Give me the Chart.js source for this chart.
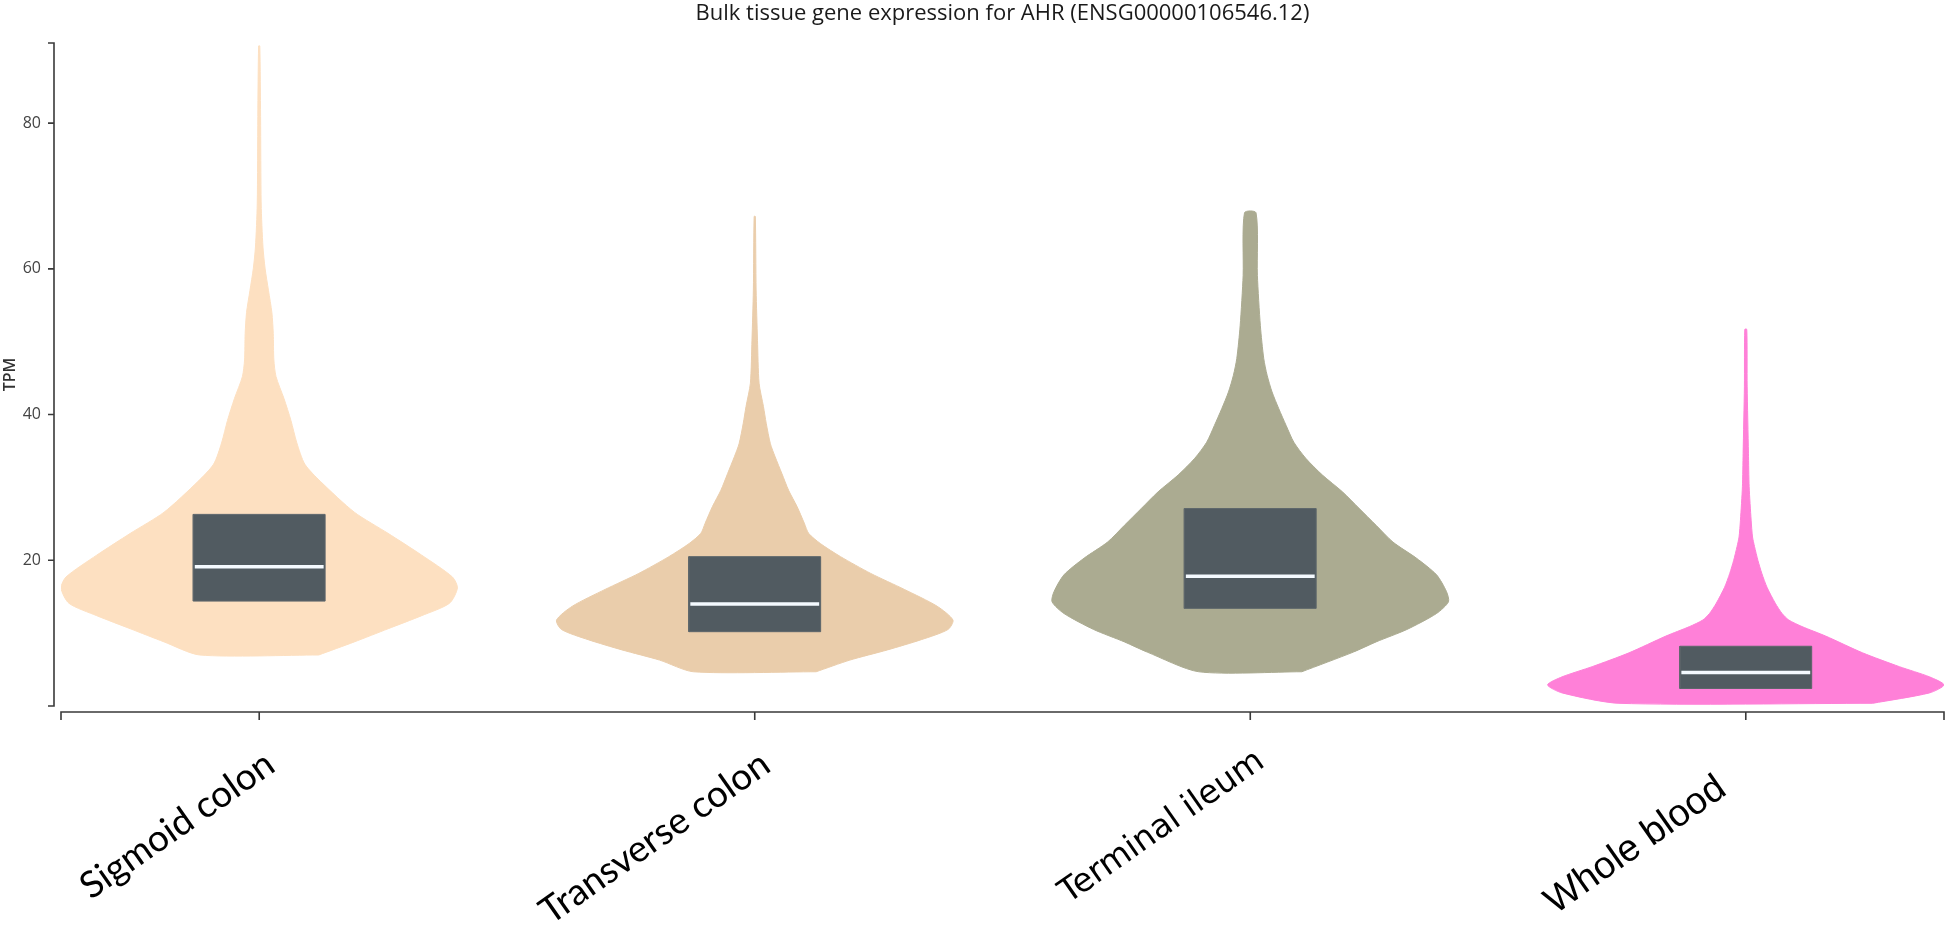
<!DOCTYPE html>
<html>
<head>
<meta charset="utf-8">
<script src="https://cdn.jsdelivr.net/npm/chart.js@4.4.0/dist/chart.umd.min.js"></script>
<style>
html,body{margin:0;padding:0;background:#fff;}
#wrap{width:1949px;height:931px;position:relative;}
</style>
</head>
<body>
<div id="wrap"><canvas id="c"></canvas></div>
<script>
// ---------- data ----------
const chartTitle = 'Bulk tissue gene expression for AHR (ENSG00000106546.12)';
const yAxisTitle = 'TPM';
const categories = ['Sigmoid colon', 'Transverse colon', 'Terminal ileum', 'Whole blood'];
const yTicks = [20, 40, 60, 80];

// violin outlines: TPM levels (ascending) and relative density width (0..1)
const sigmoidTPM     = [7.0, 8.8, 10.6, 12.4, 14.1, 16.2, 17.7, 20.7, 23.7, 26.6, 30.8, 33.2, 36.1, 39.2, 42.2, 45.2, 47.5, 51.1, 54.0, 57.0, 60.0, 63.0, 68.9, 80.9, 90.6];
const sigmoidDensity = [0.30, 0.48, 0.65, 0.82, 0.96, 1.00, 0.975, 0.82, 0.65, 0.48, 0.31, 0.23, 0.19, 0.16, 0.125, 0.085, 0.074, 0.071, 0.064, 0.047, 0.030, 0.019, 0.010, 0.007, 0.003];

const transverseTPM     = [4.7, 6.3, 7.7, 9.1, 10.5, 11.8, 13.7, 16.0, 18.2, 20.5, 22.3, 23.7, 25.1, 27.4, 29.6, 31.9, 34.2, 36.0, 38.8, 41.1, 44.3, 50.2, 57.1, 67.2];
const transverseDensity = [0.31, 0.48, 0.67, 0.84, 0.975, 1.00, 0.92, 0.755, 0.585, 0.433, 0.331, 0.272, 0.25, 0.213, 0.171, 0.137, 0.103, 0.079, 0.058, 0.044, 0.022, 0.014, 0.007, 0.003];

const ileumTPM     = [4.7, 7.4, 8.8, 10.5, 12.7, 14.3, 15.7, 18.0, 20.3, 22.5, 24.8, 27.1, 29.4, 31.7, 34.0, 36.2, 38.5, 40.8, 43.1, 45.4, 47.7, 52.2, 59.1, 67.7];
const ileumDensity = [0.26, 0.52, 0.635, 0.79, 0.94, 1.00, 0.99, 0.94, 0.838, 0.72, 0.635, 0.55, 0.465, 0.364, 0.28, 0.22, 0.181, 0.144, 0.11, 0.085, 0.068, 0.051, 0.036, 0.029];

const bloodTPM     = [0.37, 1.8, 2.9, 4.0, 5.4, 7.3, 9.6, 10.9, 11.8, 12.7, 14.1, 16.3, 18.2, 20.0, 21.9, 23.2, 25.5, 30.1, 34.7, 43.8, 51.7];
const bloodDensity = [0.64, 0.927, 1.00, 0.927, 0.775, 0.589, 0.403, 0.284, 0.217, 0.183, 0.149, 0.107, 0.081, 0.061, 0.044, 0.034, 0.027, 0.017, 0.0135, 0.007, 0.005];

// box plot summaries
const q1Values     = [14.4, 10.2, 13.4, 2.4];
const medianValues = [19.1, 14.0, 17.8, 4.6];
const q3Values     = [26.3, 20.5, 27.1, 8.2];

// ---------- styles ----------
const violinColors = ['#FDE0C1', '#EACDAB', '#ABAB91', '#FF80D8'];
const boxColor = '#515B61';
const medianColor = '#F4FAFF';
const tickFonts = [
  {family: 'Lato', size: 37},
  {family: 'Lato', size: 37},
  {family: 'DejaVu Sans', size: 33},
  {family: 'Liberation Sans', size: 38}
];
const tickLabelShift = [0, 0, 0, 4];   // trailing space count (moves label along its baseline)
const VIOLIN_HALF = 0.4;   // max half width in category units
const BOX_HALF = 0.133;

const profiles = [
  [sigmoidTPM, sigmoidDensity],
  [transverseTPM, transverseDensity],
  [ileumTPM, ileumDensity],
  [bloodTPM, bloodDensity]
];

function violinOutline(i, tpm, dens) {
  const pts = [];
  for (let k = 0; k < tpm.length; k++) pts.push({x: i + dens[k] * VIOLIN_HALF, y: tpm[k]});
  for (let k = tpm.length - 1; k >= 0; k--) pts.push({x: i - dens[k] * VIOLIN_HALF, y: tpm[k]});
  pts.push({x: pts[0].x, y: pts[0].y});
  return pts;
}
function boxOutline(i) {
  return [
    {x: i - BOX_HALF, y: q1Values[i]}, {x: i + BOX_HALF, y: q1Values[i]},
    {x: i + BOX_HALF, y: q3Values[i]}, {x: i - BOX_HALF, y: q3Values[i]},
    {x: i - BOX_HALF, y: q1Values[i]}
  ];
}

const datasets = [];
categories.forEach((c, i) => {
  datasets.push({
    label: c + ' violin', data: violinOutline(i, profiles[i][0], profiles[i][1]),
    fill: 'shape', backgroundColor: violinColors[i], borderColor: violinColors[i],
    borderWidth: 1, pointRadius: 0, tension: 0.25, order: 3
  });
  datasets.push({
    label: c + ' box', data: boxOutline(i),
    fill: 'shape', backgroundColor: boxColor, borderColor: '#5d666b',
    borderWidth: 1, pointRadius: 0, tension: 0, order: 2
  });
  datasets.push({
    label: c + ' median',
    data: [{x: i - BOX_HALF + 0.003, y: medianValues[i]}, {x: i + BOX_HALF - 0.003, y: medianValues[i]}],
    fill: false, borderColor: medianColor, borderWidth: 3.5, pointRadius: 0, order: 1
  });
});

const axesPlugin = {
  id: 'd3axes',
  afterDraw(chart) {
    const {ctx, chartArea: a, scales: {x, y}} = chart;
    ctx.save();
    ctx.strokeStyle = '#3a3a3a';
    ctx.lineWidth = 1.6;
    const ax = a.left - 7, ay = a.bottom + 6;
    const yTop = y.getPixelForValue(y.max), yBot = y.getPixelForValue(y.min);
    ctx.beginPath();
    ctx.moveTo(ax - 6, yTop); ctx.lineTo(ax, yTop); ctx.lineTo(ax, yBot); ctx.lineTo(ax - 6, yBot);
    yTicks.forEach(v => { const py = y.getPixelForValue(v); ctx.moveTo(ax - 6, py); ctx.lineTo(ax, py); });
    ctx.moveTo(x.left, ay + 8); ctx.lineTo(x.left, ay); ctx.lineTo(x.right, ay); ctx.lineTo(x.right, ay + 8);
    categories.forEach((c, i) => { const px = x.getPixelForValue(i); ctx.moveTo(px, ay); ctx.lineTo(px, ay + 8); });
    ctx.stroke();
    ctx.restore();
  }
};

new Chart(document.getElementById('c'), {
  type: 'line',
  data: {datasets},
  options: {
    responsive: true,
    maintainAspectRatio: false,
    animation: false,
    events: [],
    layout: {padding: {left: 0, right: 5, top: 0, bottom: 0}},
    plugins: {
      legend: {display: false},
      tooltip: {enabled: false},
      title: {
        display: true, text: chartTitle, fullSize: false,
        font: {family: 'Open Sans', size: 22, weight: 'normal', lineHeight: 1.2}, color: '#1a1a1a',
        padding: {top: 1, bottom: 15.6}
      }
    },
    scales: {
      x: {
        type: 'linear', min: -0.4, max: 3.4,
        grid: {display: false, drawTicks: false}, border: {display: false},
        afterBuildTicks: s => { s.ticks = categories.map((c, i) => ({value: i})); },
        afterFit: s => { s.height = 225; s.paddingLeft = 0; s.paddingRight = 0; },
        ticks: {
          autoSkip: false, minRotation: 35, maxRotation: 35, padding: 36, labelOffset: 11,
          color: '#000',
          callback: v => categories[v] + ' '.repeat(tickLabelShift[v] || 0),
          font: ctx => tickFonts[ctx.index] || tickFonts[0]
        }
      },
      y: {
        type: 'linear', min: 0, max: 91,
        grid: {display: false, drawTicks: false}, border: {display: false},
        afterBuildTicks: s => { s.ticks = yTicks.map(v => ({value: v})); },
        afterFit: s => { s.width = 61; s.paddingTop = 0; s.paddingBottom = 0; },
        ticks: {padding: 20, color: '#444', font: {family: 'Open Sans', size: 16}},
        title: {
          display: true, text: yAxisTitle, color: '#333',
          font: {family: 'Open Sans', size: 16, weight: '600'},
          padding: {top: 1, bottom: 0}
        }
      }
    }
  },
  plugins: [axesPlugin]
});
</script>
</body>
</html>
